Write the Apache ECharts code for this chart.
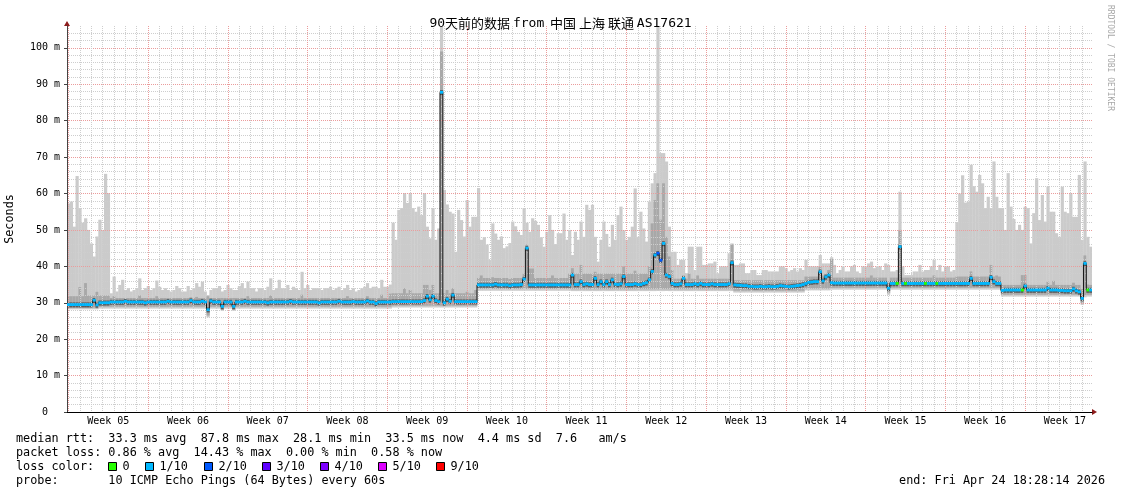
<!DOCTYPE html>
<html><head><meta charset="utf-8">
<script src="https://cdn.jsdelivr.net/npm/echarts@6/dist/echarts.min.js"></script>
<style>html,body{margin:0;padding:0;background:#fff}#c{width:1121px;height:494px}</style>
</head><body><div id="c"></div>
<script>
// ---------- data ----------
const titleText = '90天前的数据 from  中国 上海 联通 AS17621';
const spanDays = 90;
const sampleDays = 0.25;
const firstMidnight = 0.12;
const weekLabels = ['Week 05','Week 06','Week 07','Week 08','Week 09','Week 10','Week 11','Week 12','Week 13','Week 14','Week 15','Week 16','Week 17'];
const yTickValues = [0,10,20,30,40,50,60,70,80,90,100];
const yTickLabels = ['0','10 m','20 m','30 m','40 m','50 m','60 m','70 m','80 m','90 m','100 m'];
const yMaxValue = 106;

const rttMedian = [
29.5,29.5,29.5,29.5,29.5,29.5,29.5,29.5,29.5,30.7,
29.4,30.0,30.0,30.0,30.0,30.2,30.2,30.2,30.2,30.2,
30.4,30.2,30.2,30.2,30.2,30.2,30.2,30.0,30.2,30.2,
30.2,30.2,30.2,30.2,30.2,30.4,30.2,30.2,30.2,30.2,
30.2,30.2,30.2,30.6,30.2,30.2,30.2,30.4,30.2,28.1,
30.5,30.2,30.2,30.2,29.0,30.2,30.2,30.2,29.0,30.2,
30.2,30.2,30.4,30.2,30.2,30.2,30.2,30.2,30.2,30.2,
30.0,30.2,30.2,30.2,30.2,30.2,30.2,30.2,30.4,30.2,
30.2,30.2,30.2,30.2,30.2,30.2,30.2,30.2,30.0,30.2,
30.2,30.2,30.2,30.2,30.2,30.4,30.2,30.2,30.2,30.2,
30.3,30.2,30.2,30.2,30.2,30.5,30.2,30.2,29.8,30.2,
30.2,30.2,30.2,30.2,30.3,30.3,30.3,30.3,30.3,30.3,
30.3,30.3,30.3,30.3,30.3,30.6,31.8,30.8,31.8,30.6,
30.3,87.8,30.0,31.0,30.4,32.1,30.3,30.3,30.3,30.3,
30.3,30.3,30.3,30.3,34.9,34.9,34.9,34.9,34.9,34.9,
35.1,34.9,34.9,34.9,34.9,34.7,34.9,34.9,34.9,35.0,
36.5,45.0,34.9,34.9,34.9,34.9,34.9,34.9,34.9,34.9,
34.9,34.9,34.9,34.9,34.9,34.9,34.9,37.6,35.0,35.0,
35.8,35.0,35.2,35.0,35.0,36.7,35.0,35.8,35.0,35.8,
35.0,36.3,35.1,35.0,35.2,37.2,35.0,35.0,35.0,35.2,
35.0,35.0,35.3,35.5,36.3,38.6,43.1,43.6,41.7,46.3,
37.6,37.2,35.3,35.0,35.0,35.2,36.7,35.0,35.0,35.0,
35.2,35.0,35.3,35.0,35.0,35.0,35.2,35.0,35.0,35.0,
35.0,35.0,35.2,41.0,34.9,34.8,34.8,34.7,34.7,34.5,
34.5,34.4,34.4,34.5,34.4,34.4,34.5,34.4,34.4,34.5,
34.7,34.6,34.5,34.4,34.5,34.6,34.7,34.8,35.0,35.3,
35.6,35.7,35.8,35.8,38.5,36.0,37.1,37.6,35.5,35.4,
35.4,35.4,35.4,35.4,35.4,35.4,35.4,35.4,35.4,35.4,
35.4,35.4,35.4,35.4,35.4,35.4,35.4,35.4,34.0,35.3,
35.3,35.3,45.4,35.3,35.3,35.3,35.3,35.3,35.3,35.3,
35.3,35.3,35.3,35.3,35.3,35.3,35.3,35.3,35.3,35.3,
35.3,35.3,35.3,35.3,35.3,35.3,35.3,36.7,35.3,35.3,
35.3,35.3,35.3,35.3,37.0,35.8,35.3,35.3,33.4,33.5,
33.5,33.5,33.5,33.5,33.5,33.5,34.6,33.5,33.5,33.5,
33.5,33.5,33.5,33.5,34.0,33.5,33.5,33.5,33.4,33.4,
33.3,33.3,33.3,33.8,33.3,33.0,31.2,40.8,33.5,33.5
];

const rttMax = [
57.3,57.8,50.9,64.8,56.0,52.0,53.2,50.0,46.3,42.7,
48.2,52.8,50.0,65.4,60.1,32.6,37.2,33.1,34.9,36.3,
33.5,34.0,33.1,33.5,34.0,36.7,33.5,34.0,34.6,33.5,
34.0,36.1,34.4,33.5,34.0,33.5,33.1,33.5,34.6,34.0,
33.1,33.1,34.6,33.5,34.0,35.4,34.4,35.8,33.1,32.1,
33.5,34.0,34.0,34.6,33.1,33.5,34.9,34.0,33.5,33.5,
34.6,35.4,34.0,35.8,34.0,34.0,33.1,34.0,34.0,33.5,
34.4,36.7,33.5,34.0,36.3,34.0,34.0,34.9,33.5,34.4,
34.0,33.5,38.5,34.0,34.9,33.5,34.0,34.0,34.0,33.5,
34.0,34.0,34.4,33.5,34.0,34.4,33.5,34.0,34.9,33.5,
34.0,33.1,33.5,34.0,34.4,35.4,34.0,34.4,34.4,34.0,
36.3,34.4,34.4,35.0,52.0,47.3,55.5,56.0,60.1,57.4,
60.1,56.0,55.0,56.4,54.1,60.1,50.9,47.7,56.0,47.3,
50.4,106,61.0,57.0,55.0,54.5,44.0,55.5,52.7,48.2,
58.2,50.9,53.6,53.6,61.5,47.3,48.0,46.0,41.8,51.8,
49.0,47.3,48.2,45.0,45.5,46.4,52.3,51.0,49.5,48.6,
56.0,52.0,49.5,53.2,52.5,51.4,48.0,45.4,49.5,54.1,
50.0,46.1,49.1,49.1,54.5,47.3,50.0,43.1,49.5,47.3,
52.3,48.1,56.9,55.5,56.9,48.1,41.3,47.3,52.3,48.9,
45.4,51.4,47.3,54.1,56.4,49.9,47.3,48.1,50.9,61.4,
48.1,55.0,50.4,46.8,57.8,62.8,65.6,106,71.1,71.1,
68.8,50.9,44.0,44.0,40.4,41.8,41.8,38.1,45.4,45.4,
39.0,45.4,45.4,40.4,40.4,40.8,40.8,41.3,38.1,40.0,
40.0,40.0,43.6,46.3,40.4,40.4,40.8,40.8,38.1,38.1,
39.0,39.0,37.6,37.6,39.0,39.0,38.6,38.6,38.6,38.6,
40.0,40.0,39.5,38.6,39.0,39.5,38.6,39.5,39.0,41.8,
40.0,40.0,40.0,40.0,43.1,40.8,40.8,40.8,42.5,40.4,
38.1,39.0,40.0,38.6,38.6,40.0,40.4,38.6,38.1,40.0,
40.0,40.8,41.3,39.5,40.0,40.0,39.0,40.8,40.4,38.6,
38.6,39.0,60.5,40.0,37.6,37.6,37.6,38.6,38.6,40.4,
38.6,39.0,39.0,40.0,41.8,39.0,40.4,38.6,40.0,40.0,
38.6,39.0,52.0,60.0,65.0,57.5,57.8,67.9,62.0,60.5,
65.1,62.8,56.0,59.1,56.0,68.8,59.1,56.0,56.0,50.0,
65.6,56.4,53.0,50.0,51.4,50.0,56.4,56.0,46.3,54.6,
64.2,52.7,59.6,52.3,61.9,55.0,55.0,49.1,48.1,61.9,
55.0,54.6,60.1,53.6,53.6,65.1,47.3,68.8,48.1,45.4
];

const rttUpper = [
31.8,31.8,31.8,31.8,34.3,31.8,35.4,32.0,32.0,32.0,
33.0,32.0,32.0,32.0,32.0,31.3,31.8,31.3,31.3,31.3,
31.3,31.3,31.3,31.3,31.3,32.0,31.3,31.3,31.3,31.3,
31.3,31.8,31.3,31.3,31.3,31.3,31.3,31.3,31.3,31.3,
31.3,31.3,31.3,31.5,31.3,31.6,31.3,31.3,31.3,31.8,
31.3,31.3,31.3,31.3,31.3,31.3,31.3,31.3,31.3,31.3,
31.3,31.3,31.3,31.8,31.3,31.3,31.3,31.3,31.3,31.3,
31.3,32.0,31.3,31.3,31.3,31.3,31.3,31.3,31.3,31.3,
31.3,31.3,32.2,31.3,31.3,31.3,31.3,31.3,31.3,31.3,
31.3,31.3,31.3,31.3,31.3,31.3,31.3,31.3,31.8,31.3,
31.3,31.3,31.3,31.3,31.3,31.8,31.3,31.3,31.3,31.3,
32.2,31.3,31.3,32.5,32.6,32.6,32.6,32.6,34.0,32.6,
33.5,32.6,32.6,32.6,32.6,34.9,34.9,33.5,34.9,32.6,
32.6,99.0,32.6,33.5,32.6,34.0,32.6,32.6,32.6,32.6,
33.0,32.6,32.6,33.5,36.8,37.5,36.8,36.8,36.8,37.0,
36.8,36.8,36.8,36.8,36.8,36.5,36.8,36.8,36.8,36.8,
38.0,46.0,39.4,39.4,36.8,36.8,36.8,36.8,36.8,36.8,
37.5,36.8,36.8,36.8,36.8,36.8,38.0,39.5,38.0,38.0,
40.4,38.0,38.0,38.0,38.0,38.5,38.0,38.0,38.0,38.0,
38.0,38.0,38.0,38.0,38.0,40.0,38.0,38.0,38.0,38.8,
38.0,38.0,38.0,38.0,40.0,51.8,58.2,62.8,52.8,62.8,
48.1,42.7,39.0,36.6,36.6,36.6,37.5,36.6,38.0,36.6,
36.6,37.5,36.6,36.6,36.6,36.6,36.6,36.6,36.6,36.6,
36.6,36.6,36.6,46.0,36.2,36.2,36.2,36.2,36.2,36.2,
36.2,36.2,36.2,36.2,36.2,36.2,36.2,36.2,36.2,36.2,
36.2,36.2,36.2,36.2,36.2,36.2,36.2,36.2,36.2,37.2,
37.2,37.2,37.2,37.2,40.0,37.5,38.0,39.0,42.0,36.9,
36.9,36.9,36.9,36.9,36.9,36.9,36.9,36.9,36.9,36.9,
36.9,36.9,37.5,36.9,36.9,36.9,36.9,36.9,36.0,36.9,
36.9,36.9,50.0,36.9,36.9,36.9,36.9,36.9,36.9,36.9,
36.9,36.9,36.9,36.9,37.5,36.9,36.9,36.9,36.9,36.9,
36.9,36.9,37.2,37.2,37.2,37.2,37.2,38.6,37.2,37.2,
37.2,37.2,37.2,37.2,40.4,37.2,37.5,37.2,34.9,34.9,
34.9,34.9,34.9,34.9,34.9,37.6,37.6,34.9,34.9,34.9,
34.9,34.9,34.9,34.9,35.8,34.9,36.0,34.9,34.9,34.9,
34.9,34.9,34.9,35.5,34.9,34.9,34.0,43.0,35.0,34.9
];

const rttMin = [
28.2,28.2,28.2,28.2,28.2,28.2,28.2,28.2,28.2,28.2,
28.2,28.4,28.4,28.4,28.4,28.4,28.4,28.4,28.4,28.4,
28.4,28.4,28.4,28.4,28.4,28.4,28.4,28.4,28.4,28.4,
28.4,28.4,28.4,28.4,28.4,28.4,28.4,28.4,28.4,28.4,
28.4,28.4,28.4,28.4,28.4,28.4,28.4,28.4,28.4,26.0,
28.4,28.4,28.4,28.4,27.8,28.4,28.4,28.4,27.8,28.4,
28.4,28.4,28.4,28.4,28.4,28.4,28.4,28.4,28.4,28.4,
28.4,28.4,28.4,28.4,28.4,28.4,28.4,28.4,28.4,28.4,
28.4,28.4,28.4,28.4,28.4,28.4,28.4,28.4,28.4,28.4,
28.4,28.4,28.4,28.4,28.4,28.4,28.4,28.4,28.4,28.4,
28.4,28.4,28.4,28.4,28.4,28.4,28.4,28.4,28.4,28.4,
28.4,28.4,28.4,28.4,28.7,28.7,28.7,28.7,28.7,28.7,
28.7,28.7,28.7,28.7,28.7,28.7,28.7,28.7,28.7,28.7,
28.7,28.7,28.7,28.7,28.7,28.7,28.7,28.7,28.7,28.7,
28.7,28.7,28.7,28.7,33.3,33.3,33.3,33.3,33.3,33.3,
33.3,33.3,33.3,33.3,33.3,33.3,33.3,33.3,33.3,33.3,
33.3,33.3,33.3,33.3,33.3,33.3,33.3,33.3,33.3,33.3,
33.3,33.3,33.3,33.3,33.3,33.3,33.3,33.2,33.2,33.2,
33.2,33.2,33.2,33.2,33.2,33.2,33.2,33.2,33.2,33.2,
33.2,33.2,33.2,33.2,33.2,33.2,33.2,33.2,33.2,33.2,
33.2,33.2,33.2,33.2,33.2,33.2,33.2,33.2,33.2,33.2,
33.2,33.2,33.2,33.2,33.2,33.2,33.2,33.2,33.2,33.2,
33.2,33.2,33.2,33.2,33.2,33.2,33.2,33.2,33.2,33.2,
33.2,33.2,33.2,33.2,32.8,32.8,32.8,32.8,32.8,32.8,
32.8,32.8,32.8,32.8,32.8,32.8,32.8,32.8,32.8,32.8,
32.8,32.8,32.8,32.8,32.8,32.8,32.8,32.8,32.8,33.4,
33.4,33.4,33.4,33.4,33.4,33.4,33.4,33.4,33.6,33.6,
33.6,33.6,33.6,33.6,33.6,33.6,33.6,33.6,33.6,33.6,
33.6,33.6,33.6,33.6,33.6,33.6,33.6,33.6,32.2,33.6,
33.6,33.6,33.6,33.6,33.6,33.6,33.6,33.6,33.6,33.6,
33.6,33.6,33.6,33.6,33.6,33.6,33.6,33.6,33.6,33.6,
33.6,33.6,33.6,33.6,33.6,33.6,33.6,33.6,33.6,33.6,
33.6,33.6,33.6,33.6,33.6,33.6,33.6,33.6,31.7,31.7,
31.7,31.7,31.7,31.7,31.7,31.7,31.7,31.7,31.7,31.7,
31.7,31.7,31.7,31.7,31.7,31.7,31.7,31.7,31.7,31.7,
31.7,31.7,31.7,31.7,31.7,31.7,29.4,31.5,31.7,31.7
];

const lossTenths = [
1,1,1,1,1,1,1,1,1,1, 1,1,1,1,1,1,1,1,1,1, 1,1,1,1,1,1,1,1,1,1, 1,1,1,1,1,1,1,1,1,1,
1,1,1,1,1,1,1,1,1,1, 1,1,1,1,1,1,1,1,1,1, 1,1,1,1,1,1,1,1,1,1, 1,1,1,1,1,1,1,1,1,1,
1,1,1,1,1,1,1,1,1,1, 1,1,1,1,1,1,1,1,1,1, 1,1,1,1,1,1,1,1,1,1, 1,1,1,1,1,1,1,1,1,1,
1,1,1,1,1,1,1,1,1,1, 1,1,1,1,1,1,1,1,1,1, 1,1,1,1,1,1,1,1,1,1, 1,1,1,1,1,1,1,1,1,1,
1,1,1,1,1,1,1,1,1,1, 1,1,1,1,1,1,1,1,1,1, 1,1,1,1,1,1,1,1,1,1, 1,1,1,1,1,1,1,1,1,1,
1,1,1,1,1,1,1,2,2,1, 1,1,1,1,1,1,1,1,1,1, 1,1,1,1,1,1,1,1,1,1, 1,1,1,1,1,1,1,1,1,1,
1,1,1,1,1,1,1,1,1,1, 1,1,1,1,1,1,1,1,1,1, 1,1,1,1,1,1,1,1,1,1, 1,1,1,1,1,1,1,1,1,1,
1,1,1,1,1,1,1,1,1,1, 1,0,1,1,0,1,1,1,1,1, 1,0,1,1,1,0,1,1,1,1, 1,1,1,1,1,1,1,1,1,1,
1,1,1,1,1,1,1,1,1,1, 1,1,1,1,1,0,1,1,1,1, 1,1,1,1,1,1,1,1,1,1, 1,1,1,1,1,1,1,1,0,1
];

const lossLevels = [0,1,2,3,4,5,9];
const lossLabels = ['0','1/10','2/10','3/10','4/10','5/10','9/10'];
const lossColors = ['#26ff00','#00b8ff','#0059ff','#5e00ff','#7e00ff','#dd00ff','#ff0000'];

const statLines = [
  'median rtt:  33.3 ms avg  87.8 ms max  28.1 ms min  33.5 ms now  4.4 ms sd  7.6   am/s',
  'packet loss: 0.86 % avg  14.43 % max  0.00 % min  0.58 % now',
  'loss color:',
  'probe:       10 ICMP Echo Pings (64 Bytes) every 60s'
];
const endText = 'end: Fri Apr 24 18:28:14 2026';
const watermark = 'RRDTOOL / TOBI OETIKER';
const yAxisTitle = 'Seconds';

// ---------- styles ----------
const MONO = "'DejaVu Sans Mono', monospace";
const CJK = "'Noto Sans CJK SC', sans-serif";
const SMOKE_LIGHT = '#cbcbcb', SMOKE_MID = '#a8a8a8', SMOKE_DARK = '#5a5a5a';
const GRID_MINOR = '#cecece', GRID_MAJOR = '#eb9c9c', ARROW = '#8e1c1c';

// ---------- derived ----------
const dayLines = [], weekLines = [], weekCenters = [];
for (let d = firstMidnight; d < spanDays; d += 1) dayLines.push(+d.toFixed(4));
for (let k = 0; firstMidnight + 7 * k < spanDays; k++) weekLines.push(+(firstMidnight + 7 * k).toFixed(4));
weekLabels.forEach((_, k) => weekCenters.push(+(firstMidnight + 3.5 + 7 * k).toFixed(4)));
const minorY = [];
for (let v = 2; v < yMaxValue; v += 2) minorY.push(v);

const rows = rttMedian.map((m, i) => [i * sampleDays, (i + 1) * sampleDays, rttMin[i], rttMax[i], rttUpper[i], m, lossTenths[i]]);
const medianPts = rttMedian.map((m, i) => [i * sampleDays, m]);
medianPts.push([rttMedian.length * sampleDays, rttMedian[rttMedian.length - 1]]);

function colSpan(api) {
  const x0 = api.coord([api.value(0), 0])[0];
  const x1 = api.coord([api.value(1), 0])[0];
  return [x0, x1 - x0 + 0.35];
}
function renderSmoke(params, api) {
  const [x0, w] = colSpan(api);
  const yLo = api.coord([0, api.value(2)])[1];
  const yHi = api.coord([0, api.value(3)])[1];
  const yUp = api.coord([0, api.value(4)])[1];
  const yMed = api.coord([0, api.value(5)])[1];
  const midBottom = Math.max(yMed + 3.5, yLo - 1.8);
  return { type: 'group', children: [
    { type: 'rect', shape: { x: x0, y: yHi, width: w, height: yLo - yHi }, style: { fill: SMOKE_LIGHT } },
    { type: 'rect', shape: { x: x0, y: yUp, width: w, height: midBottom - yUp }, style: { fill: SMOKE_MID } },
    { type: 'rect', shape: { x: x0, y: yMed - 2.2, width: w, height: 5 }, style: { fill: SMOKE_DARK } }
  ]};
}
function renderLoss(params, api) {
  const [x0, w] = colSpan(api);
  const yMed = api.coord([0, api.value(5)])[1];
  const c = lossColors[lossLevels.indexOf(api.value(6))];
  return { type: 'rect', shape: { x: x0, y: yMed - 1.4, width: w, height: 2.8 }, style: { fill: c } };
}

// title as rich text: CJK runs & spaces in CJK font, latin in mono
function richTitle(t) {
  let out = '', cur = null, buf = '';
  for (const ch of t) {
    const k = /[\u3000-\u9fff ]/.test(ch) ? 'c' : 'm';
    if (k !== cur && buf) { out += '{' + cur + '|' + buf + '}'; buf = ''; }
    cur = k; buf += ch;
  }
  if (buf) out += '{' + cur + '|' + buf + '}';
  return out;
}

const chart = echarts.init(document.getElementById('c'), null, { renderer: 'canvas', width: 1121, height: 494 });
chart.setOption({
  animation: false,
  backgroundColor: '#ffffff',
  textStyle: { fontFamily: MONO },
  title: {
    text: richTitle(titleText), left: 'center', top: 12,
    textStyle: { fontSize: 13, fontWeight: 'normal', color: '#000', rich: {
      m: { fontFamily: MONO, fontSize: 13, fontWeight: 'normal', color: '#000' },
      c: { fontFamily: CJK, fontSize: 13, fontWeight: 'normal', color: '#000' }
    } }
  },
  grid: { left: 67, right: 29, top: 26, bottom: 82, containLabel: false },
  xAxis: [
    { type: 'value', min: 0, max: spanDays, position: 'bottom', offset: 0, z: 3,
      axisLine: { show: false }, axisLabel: { show: false },
      axisTick: { show: false, customValues: dayLines },
      splitLine: { show: true, lineStyle: { color: GRID_MINOR, type: [1, 1], width: 1 } } },
    { type: 'value', min: 0, max: spanDays, position: 'bottom', offset: 0, z: 3,
      axisLine: { show: true, onZero: false, lineStyle: { color: '#000', width: 1 } },
      axisTick: { show: false, customValues: weekLines },
      axisLabel: { customValues: weekCenters, margin: 4, color: '#000', fontFamily: MONO, fontSize: 10,
        formatter: v => weekLabels[weekCenters.indexOf(v)] || '' },
      splitLine: { show: true, lineStyle: { color: GRID_MAJOR, type: [1, 1], width: 1 } } }
  ],
  yAxis: [
    { type: 'value', min: 0, max: yMaxValue, position: 'left', offset: 0, z: 3,
      axisLine: { show: false }, axisLabel: { show: false },
      axisTick: { show: false, customValues: minorY },
      splitLine: { show: true, lineStyle: { color: GRID_MINOR, type: [1, 1], width: 1 } } },
    { type: 'value', min: 0, max: yMaxValue, position: 'left', offset: 0, z: 3,
      axisLine: { show: true, onZero: false, lineStyle: { color: '#444', width: 1 } },
      axisTick: { show: true, length: 3, customValues: yTickValues, lineStyle: { color: '#444' } },
      axisLabel: { customValues: yTickValues, margin: 7, color: '#000', fontFamily: MONO, fontSize: 10,
        formatter: v => { const l = yTickLabels[yTickValues.indexOf(v)]; return l.indexOf(' ') < 0 ? l + '  ' : l; } },
      splitLine: { show: true, lineStyle: { color: GRID_MAJOR, type: [1, 1], width: 1 } } }
  ],
  series: [
    { type: 'custom', name: 'smoke', xAxisIndex: 1, yAxisIndex: 1, renderItem: renderSmoke, data: rows,
      encode: { x: [0, 1], y: [2, 3] }, clip: true, silent: true, z: 2 },
    { type: 'line', name: 'median', xAxisIndex: 1, yAxisIndex: 1, data: medianPts, step: 'end',
      symbol: 'none', silent: true, lineStyle: { color: '#141414', width: 1 }, z: 4 },
    { type: 'custom', name: 'loss', xAxisIndex: 1, yAxisIndex: 1, renderItem: renderLoss, data: rows,
      encode: { x: [0, 1], y: 5 }, clip: true, silent: true, z: 5 }
  ]
});

// ---------- decorations & text ----------
const topPt = chart.convertToPixel({ xAxisIndex: 1, yAxisIndex: 1 }, [0, yMaxValue]);
const endPt = chart.convertToPixel({ xAxisIndex: 1, yAxisIndex: 1 }, [spanDays, 0]);
const originPt = chart.convertToPixel({ xAxisIndex: 1, yAxisIndex: 1 }, [0, 0]);
const txt = (x, y, text, extra) => Object.assign({ type: 'text', x, y, style: Object.assign({
  text, font: '11.8px ' + MONO, fill: '#000', align: 'left', verticalAlign: 'middle',
  textAlign: 'left', textVerticalAlign: 'middle' }, extra || {}) });
const els = [];
els.push({ type: 'polygon', shape: { points: [[topPt[0] - 3, topPt[1]], [topPt[0] + 3, topPt[1]], [topPt[0], topPt[1] - 5]] }, style: { fill: ARROW } });
els.push({ type: 'polygon', shape: { points: [[endPt[0], endPt[1] - 3], [endPt[0], endPt[1] + 3], [endPt[0] + 5, endPt[1]]] }, style: { fill: ARROW } });
const rowY = [originPt[1] + 26.5, originPt[1] + 40.5, originPt[1] + 54.5, originPt[1] + 68.5];
statLines.forEach((s, k) => els.push(txt(16, rowY[k], s)));
const boxX = [108, 145, 204, 262, 320, 378, 436];
lossLabels.forEach((l, k) => {
  els.push({ type: 'rect', shape: { x: boxX[k] + 0.5, y: rowY[2] - 4, width: 8, height: 8 }, style: { fill: lossColors[k], stroke: '#000', lineWidth: 1 } });
  els.push(txt(boxX[k] + 14.5, rowY[2], l));
});
els.push(txt(1105, rowY[3], endText, { align: 'right', textAlign: 'right' }));
els.push(Object.assign(txt(10, (topPt[1] + originPt[1]) / 2, yAxisTitle, { align: 'center', textAlign: 'center' }), { rotation: Math.PI / 2 }));
els.push(Object.assign(txt(1110.5, 5, watermark, { font: '8px ' + MONO, fill: '#a8a8a8' }), { rotation: -Math.PI / 2 }));
chart.setOption({ graphic: { elements: els } });
</script>
</body></html>
